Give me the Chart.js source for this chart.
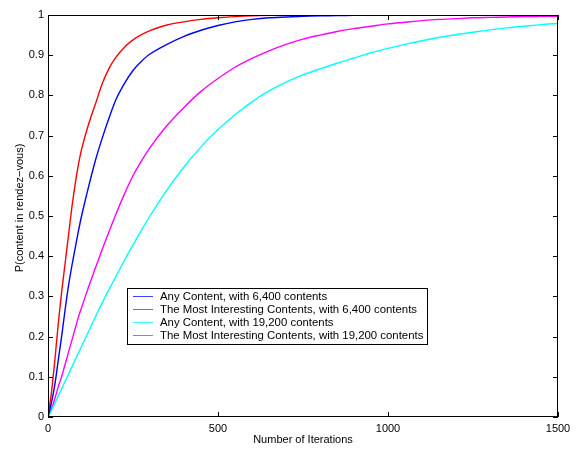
<!DOCTYPE html>
<html>
<head>
<meta charset="utf-8">
<script src="https://cdn.jsdelivr.net/npm/chart.js@4"></script>
<style>
html,body{margin:0;padding:0;background:#fff;}
canvas{display:block;}
</style>
</head>
<body>
<canvas id="c" width="580" height="450"></canvas>
<script>
const iterations = [0,10,20,30,40,50,60,70,80,90,100,120,140,160,180,200,225,250,275,300,350,400,450,500,550,600,650,700,750,800,850,900,950,1000,1050,1100,1150,1200,1250,1300,1350,1400,1450,1500];

const anyContent6400 = [0,0.035,0.08,0.14,0.2,0.265,0.325,0.375,0.42,0.465,0.505,0.575,0.64,0.695,0.745,0.79,0.83,0.862,0.885,0.903,0.927,0.947,0.962,0.974,0.983,0.989,0.993,0.995,0.997,0.998,0.9985,0.999,0.9992,0.9995,0.9996,0.9997,0.9998,0.9998,0.9999,0.9999,1,1,1,1];

const interesting6400 = [0,0.06,0.14,0.23,0.31,0.38,0.45,0.52,0.58,0.63,0.67,0.73,0.78,0.83,0.868,0.895,0.92,0.938,0.951,0.961,0.975,0.983,0.989,0.993,0.996,0.998,0.999,0.9995,0.9997,0.9998,0.9999,1,1,1,1,1,1,1,1,1,1,1,1,1];

const anyContent19200 = [0,0.016,0.034,0.052,0.07,0.088,0.106,0.124,0.142,0.16,0.178,0.214,0.25,0.285,0.318,0.35,0.39,0.428,0.465,0.5,0.565,0.622,0.672,0.715,0.752,0.784,0.811,0.833,0.851,0.866,0.88,0.893,0.906,0.917,0.927,0.936,0.944,0.951,0.957,0.963,0.968,0.972,0.976,0.979];

const interesting19200 = [0,0.02,0.045,0.075,0.1,0.13,0.16,0.19,0.22,0.25,0.275,0.325,0.372,0.418,0.462,0.505,0.555,0.6,0.637,0.67,0.725,0.77,0.81,0.842,0.87,0.892,0.911,0.927,0.94,0.95,0.959,0.966,0.972,0.978,0.982,0.986,0.989,0.991,0.993,0.994,0.995,0.996,0.997,0.997];

const seriesLabels = [
  "Any Content, with 6,400 contents",
  "The Most Interesting Contents, with 6,400 contents",
  "Any Content, with 19,200 contents",
  "The Most Interesting Contents, with 19,200 contents"
];
const seriesColors = ["#0000ff","#ff0000","#00ffff","#ff00ff"];
const xTicks = [0,500,1000,1500];
const yTicks = [0,0.1,0.2,0.3,0.4,0.5,0.6,0.7,0.8,0.9,1];
const xTitle = "Number of Iterations";
const yTitle = "P(content in rendez\u2212vous)";

const FONT = "11px 'Liberation Sans', Arial, Helvetica, sans-serif";
const LEGEND_FONT = "11.4px 'Liberation Sans', Arial, Helvetica, sans-serif";

function pts(vals){ return iterations.map((x,i)=>({x:x,y:vals[i]})); }
const allSeries = [anyContent6400, interesting6400, anyContent19200, interesting19200];

const framePlugin = {
  id:'frame',
  afterDatasetsDraw(chart){
    const ctx = chart.ctx, a = chart.chartArea;
    const xs = chart.scales.x, ys = chart.scales.y;
    ctx.save();
    ctx.strokeStyle = '#000';
    ctx.lineWidth = 1;
    ctx.strokeRect(Math.round(a.left)+0.5, Math.round(a.top)+0.5, Math.round(a.right-a.left)-1, Math.round(a.bottom-a.top)-1);
    const tl = 5;
    ctx.beginPath();
    xTicks.forEach(v=>{
      const px = Math.round(xs.getPixelForValue(v))+0.5;
      ctx.moveTo(px, a.bottom); ctx.lineTo(px, a.bottom - tl);
      ctx.moveTo(px, a.top); ctx.lineTo(px, a.top + tl);
    });
    yTicks.forEach(v=>{
      const py = Math.round(ys.getPixelForValue(v))+0.5;
      ctx.moveTo(a.left, py); ctx.lineTo(a.left + tl, py);
      ctx.moveTo(a.right, py); ctx.lineTo(a.right - tl, py);
    });
    ctx.stroke();

    // axis titles
    ctx.fillStyle = '#000';
    ctx.font = FONT;
    ctx.textAlign = 'center';
    ctx.textBaseline = 'middle';
    ctx.fillText(xTitle, (a.left+a.right)/2, 440);
    ctx.save();
    ctx.translate(20, 208);
    ctx.rotate(-Math.PI/2);
    ctx.fillText(yTitle, 0, 0);
    ctx.restore();

    // legend
    const lx = 127.5, ly = 288.5, lw = 300, lh = 56;
    ctx.fillStyle = '#fff';
    ctx.fillRect(lx, ly, lw, lh);
    ctx.strokeStyle = '#000';
    ctx.lineWidth = 1;
    ctx.strokeRect(lx, ly, lw, lh);
    const rows = [296.5, 309.5, 322.5, 335.5];
    ctx.font = LEGEND_FONT;
    chart.data.datasets.forEach((ds,i)=>{
      ctx.strokeStyle = ds.borderColor;
      ctx.globalAlpha = 0.75;
      ctx.beginPath();
      ctx.moveTo(133, rows[i]); ctx.lineTo(153, rows[i]);
      ctx.stroke();
      ctx.globalAlpha = 1;
      ctx.fillStyle = '#000';
      ctx.textAlign = 'left';
      ctx.textBaseline = 'middle';
      ctx.fillText(ds.label, 160, rows[i]);
    });
    ctx.restore();
  }
};

new Chart(document.getElementById('c'), {
  type:'line',
  data:{
    datasets: allSeries.map((s,i)=>({
      label: seriesLabels[i],
      data: pts(s),
      borderColor: seriesColors[i],
      backgroundColor: seriesColors[i],
      borderWidth: 1.4,
      pointRadius: 0,
      tension: 0.3,
      fill: false
    }))
  },
  options:{
    responsive:false,
    animation:false,
    devicePixelRatio:1,
    layout:{padding:{top:15,right:22,left:0,bottom:0}},
    plugins:{legend:{display:false}, tooltip:{enabled:false}},
    scales:{
      x:{
        type:'linear', min:0, max:1500,
        afterBuildTicks(s){ s.ticks = xTicks.map(v=>({value:v})); },
        afterFit(s){ s.height = 33; },
        grid:{display:false, drawTicks:false},
        border:{display:false},
        ticks:{padding:5, color:'#000', font:{family:"'Liberation Sans', Arial, sans-serif", size:11}, maxRotation:0, callback:v=>String(v)}
      },
      y:{
        type:'linear', min:0, max:1,
        afterBuildTicks(s){ s.ticks = yTicks.map(v=>({value:v})); },
        afterFit(s){ s.width = 48; },
        grid:{display:false, drawTicks:false},
        border:{display:false},
        ticks:{padding:4, color:'#000', font:{family:"'Liberation Sans', Arial, sans-serif", size:11}, callback:v=>String(+v.toFixed(1))}
      }
    }
  },
  plugins:[framePlugin]
});
</script>
</body>
</html>
